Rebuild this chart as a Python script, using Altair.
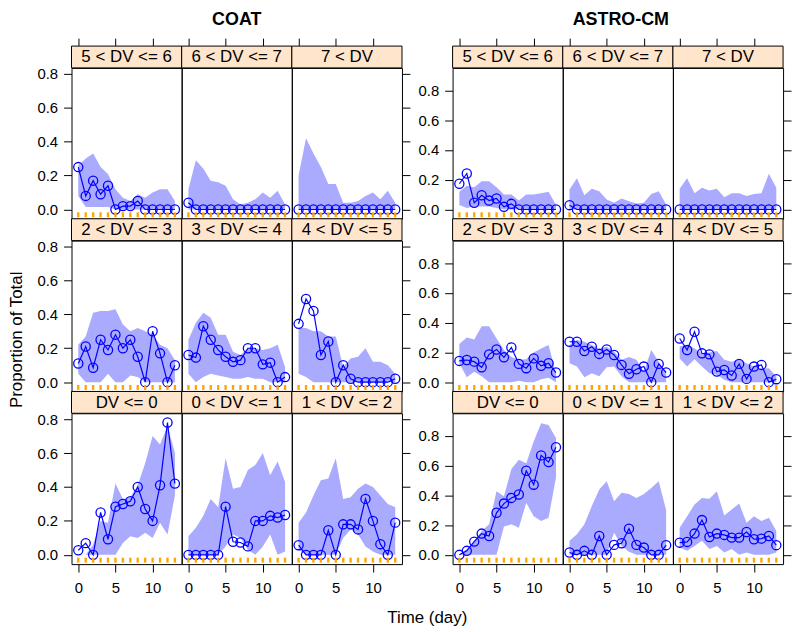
import altair as alt
import pandas as pd

days = list(range(14))
groups = ["COAT", "ASTRO-CM"]
strip_labels = [
    ["5 < DV <= 6", "6 < DV <= 7", "7 < DV"],
    ["2 < DV <= 3", "3 < DV <= 4", "4 < DV <= 5"],
    ["DV <= 0", "0 < DV <= 1", "1 < DV <= 2"],
]
x_ticks = [0, 5, 10]
y_ticks = [0.0, 0.2, 0.4, 0.6, 0.8]

# ---------------- COAT ----------------
coat_56_p = [0.25, 0.08, 0.17, 0.09, 0.14, 0.0, 0.02, 0.02, 0.05, 0.0, 0.0, 0.0, 0.0, 0.0]
coat_56_lo = [0.08, 0.015, 0.015, 0.015, 0.015, 0.0, 0.0, 0.0, 0.0, 0.0, 0.0, 0.0, 0.0, 0.0]
coat_56_hi = [0.26, 0.30, 0.33, 0.25, 0.21, 0.12, 0.07, 0.05, 0.09, 0.07, 0.10, 0.12, 0.12, 0.05]

coat_67_p = [0.04, 0.0, 0.0, 0.0, 0.0, 0.0, 0.0, 0.0, 0.0, 0.0, 0.0, 0.0, 0.0, 0.0]
coat_67_lo = [0.0] * 14
coat_67_hi = [0.12, 0.29, 0.24, 0.17, 0.16, 0.14, 0.06, 0.03, 0.04, 0.06, 0.10, 0.07, 0.11, 0.03]

coat_7_p = [0.0] * 14
coat_7_lo = [0.0] * 14
coat_7_hi = [0.20, 0.42, 0.33, 0.25, 0.15, 0.15, 0.04, 0.04, 0.05, 0.08, 0.10, 0.06, 0.11, 0.04]

coat_23_p = [0.11, 0.21, 0.085, 0.25, 0.19, 0.28, 0.20, 0.25, 0.15, 0.0, 0.30, 0.17, 0.0, 0.10]
coat_23_lo = [0.05, 0.0, 0.0, 0.0, 0.05, 0.0, 0.0, 0.04, 0.03, 0.0, 0.0, 0.0, 0.0, 0.0]
coat_23_hi = [0.22, 0.27, 0.41, 0.42, 0.42, 0.43, 0.34, 0.30, 0.32, 0.30, 0.28, 0.22, 0.20, 0.13]

coat_34_p = [0.16, 0.145, 0.33, 0.25, 0.19, 0.15, 0.12, 0.13, 0.20, 0.20, 0.105, 0.115, 0.0, 0.03]
coat_34_lo = [0.05, 0.0, 0.03, 0.05, 0.04, 0.03, 0.02, 0.02, 0.03, 0.02, 0.02, 0.0, 0.0, 0.0]
coat_34_hi = [0.25, 0.35, 0.41, 0.38, 0.28, 0.28, 0.18, 0.16, 0.20, 0.20, 0.19, 0.20, 0.22, 0.09]

coat_45_p = [0.344, 0.49, 0.42, 0.16, 0.24, 0.0, 0.10, 0.02, 0.0, 0.0, 0.0, 0.0, 0.0, 0.02]
coat_45_lo = [0.05, 0.03, 0.0, 0.0, 0.0, 0.0, 0.0, 0.0, 0.0, 0.0, 0.0, 0.0, 0.0, 0.0]
coat_45_hi = [0.32, 0.32, 0.30, 0.30, 0.27, 0.27, 0.09, 0.14, 0.15, 0.20, 0.12, 0.12, 0.10, 0.05]

coat_le0_p = [0.027, 0.069, 0.0, 0.25, 0.092, 0.284, 0.30, 0.316, 0.40, 0.27, 0.20, 0.41, 0.78, 0.42]
coat_le0_lo = [0.0, 0.0, 0.0, 0.0, 0.0, 0.0, 0.07, 0.11, 0.10, 0.13, 0.10, 0.19, 0.12, 0.35]
coat_le0_hi = [0.0, 0.0, 0.06, 0.20, 0.19, 0.42, 0.33, 0.34, 0.41, 0.54, 0.70, 0.65, 0.76, 0.60]

coat_01_p = [0.0, 0.0, 0.0, 0.0, 0.0, 0.284, 0.077, 0.073, 0.05, 0.20, 0.20, 0.23, 0.22, 0.235]
coat_01_lo = [0.0, 0.0, 0.0, 0.0, 0.0, 0.05, 0.12, 0.10, 0.03, 0.0, 0.05, 0.12, 0.0, 0.02]
coat_01_hi = [0.11, 0.16, 0.23, 0.33, 0.28, 0.57, 0.39, 0.40, 0.50, 0.53, 0.60, 0.47, 0.55, 0.43]

coat_12_p = [0.057, 0.0, 0.0, 0.0, 0.145, 0.0, 0.18, 0.18, 0.15, 0.33, 0.20, 0.063, 0.0, 0.19]
coat_12_lo = [0.03, 0.0, 0.0, 0.0, 0.0, 0.0, 0.10, 0.15, 0.12, 0.05, 0.02, 0.0, 0.0, 0.0]
coat_12_hi = [0.19, 0.25, 0.35, 0.44, 0.45, 0.57, 0.33, 0.34, 0.39, 0.42, 0.40, 0.35, 0.30, 0.28]

# ---------------- ASTRO-CM ----------------
astro_56_p = [0.173, 0.242, 0.045, 0.096, 0.06, 0.074, 0.018, 0.038, 0.0, 0.0, 0.0, 0.0, 0.0, 0.0]
astro_56_lo = [0.03, 0.01, 0.02, 0.02, 0.02, 0.01, 0.0, 0.0, 0.0, 0.0, 0.0, 0.0, 0.0, 0.0]
astro_56_hi = [0.12, 0.16, 0.15, 0.19, 0.19, 0.15, 0.10, 0.10, 0.06, 0.10, 0.10, 0.11, 0.12, 0.03]

astro_67_p = [0.029, 0.0, 0.0, 0.0, 0.0, 0.0, 0.0, 0.0, 0.0, 0.0, 0.0, 0.0, 0.0, 0.0]
astro_67_lo = [0.0] * 14
astro_67_hi = [0.135, 0.21, 0.096, 0.14, 0.123, 0.067, 0.045, 0.074, 0.056, 0.04, 0.045, 0.105, 0.123, 0.034]

astro_7_p = [0.0] * 14
astro_7_lo = [0.0] * 14
astro_7_hi = [0.14, 0.21, 0.11, 0.146, 0.128, 0.14, 0.083, 0.11, 0.11, 0.09, 0.105, 0.11, 0.24, 0.146]

astro_23_p = [0.143, 0.149, 0.138, 0.10, 0.187, 0.22, 0.167, 0.234, 0.123, 0.094, 0.16, 0.11, 0.127, 0.065]
astro_23_lo = [0.127, 0.033, 0.07, 0.04, 0.0, 0.0, 0.0, 0.0, 0.01, 0.0, 0.0, 0.02, 0.03, 0.0]
astro_23_hi = [0.256, 0.30, 0.287, 0.377, 0.377, 0.294, 0.216, 0.17, 0.15, 0.154, 0.20, 0.227, 0.25, 0.06]

astro_34_p = [0.272, 0.272, 0.21, 0.238, 0.19, 0.22, 0.183, 0.116, 0.056, 0.087, 0.105, 0.0, 0.123, 0.065]
astro_34_lo = [0.127, 0.105, 0.033, 0.06, 0.04, 0.10, 0.105, 0.04, 0.0, 0.0, 0.0, 0.0, 0.0, 0.0]
astro_34_hi = [0.25, 0.283, 0.272, 0.25, 0.227, 0.238, 0.205, 0.15, 0.17, 0.15, 0.07, 0.216, 0.138, 0.06]

astro_45_p = [0.294, 0.216, 0.339, 0.194, 0.187, 0.071, 0.082, 0.045, 0.123, 0.022, 0.105, 0.116, 0.0, 0.02]
astro_45_lo = [0.16, 0.105, 0.154, 0.105, 0.06, 0.05, 0.016, 0.0, 0.0, 0.0, 0.0, 0.0, 0.0, 0.0]
astro_45_hi = [0.24, 0.25, 0.227, 0.194, 0.20, 0.21, 0.15, 0.138, 0.154, 0.127, 0.105, 0.09, 0.094, 0.038]

astro_le0_p = [0.0, 0.027, 0.089, 0.143, 0.127, 0.283, 0.345, 0.383, 0.406, 0.566, 0.472, 0.669, 0.624, 0.724]
astro_le0_lo = [0.0, 0.0, 0.0, 0.0, 0.0, 0.0, 0.19, 0.205, 0.183, 0.35, 0.26, 0.227, 0.25, 0.52]
astro_le0_hi = [0.0, 0.04, 0.094, 0.16, 0.205, 0.428, 0.394, 0.577, 0.64, 0.617, 0.762, 0.885, 0.873, 0.784]

astro_01_p = [0.016, 0.0, 0.027, 0.0, 0.127, 0.0, 0.067, 0.078, 0.176, 0.067, 0.049, 0.0, 0.0, 0.065]
astro_01_lo = [0.0, 0.0, 0.0, 0.0, 0.0, 0.0, 0.15, 0.06, 0.02, 0.0, 0.0, 0.0, 0.0, 0.0]
astro_01_hi = [0.094, 0.138, 0.205, 0.328, 0.44, 0.495, 0.361, 0.417, 0.41, 0.383, 0.41, 0.45, 0.495, 0.30]

astro_12_p = [0.082, 0.087, 0.143, 0.234, 0.12, 0.143, 0.134, 0.116, 0.116, 0.154, 0.105, 0.109, 0.127, 0.065]
astro_12_lo = [0.05, 0.027, 0.06, 0.094, 0.04, 0.06, 0.016, 0.04, 0.0, 0.016, 0.0, 0.0, 0.0, 0.016]
astro_12_hi = [0.183, 0.26, 0.339, 0.383, 0.377, 0.428, 0.265, 0.305, 0.345, 0.216, 0.26, 0.227, 0.25, 0.16]

series = {
    "COAT": [
        [(coat_56_p, coat_56_lo, coat_56_hi), (coat_67_p, coat_67_lo, coat_67_hi), (coat_7_p, coat_7_lo, coat_7_hi)],
        [(coat_23_p, coat_23_lo, coat_23_hi), (coat_34_p, coat_34_lo, coat_34_hi), (coat_45_p, coat_45_lo, coat_45_hi)],
        [(coat_le0_p, coat_le0_lo, coat_le0_hi), (coat_01_p, coat_01_lo, coat_01_hi), (coat_12_p, coat_12_lo, coat_12_hi)],
    ],
    "ASTRO-CM": [
        [(astro_56_p, astro_56_lo, astro_56_hi), (astro_67_p, astro_67_lo, astro_67_hi), (astro_7_p, astro_7_lo, astro_7_hi)],
        [(astro_23_p, astro_23_lo, astro_23_hi), (astro_34_p, astro_34_lo, astro_34_hi), (astro_45_p, astro_45_lo, astro_45_hi)],
        [(astro_le0_p, astro_le0_lo, astro_le0_hi), (astro_01_p, astro_01_lo, astro_01_hi), (astro_12_p, astro_12_lo, astro_12_hi)],
    ],
}

W, H, S = 111, 152, 22
GAP = 51
XDOM = [-0.91, 13.91]
YDOM = {"COAT": [-0.0546, 0.8346], "ASTRO-CM": [-0.0624, 0.9524]}
FONT = "Liberation Sans"
BAND = "#aaaaff"
BLUE = "#0000ff"
STRIP_BG = "#ffe5cc"
RUG = "#ffa500"


def text_layer(txt, x, y, size, weight="normal", angle=0):
    d = pd.DataFrame({"t": [txt]})
    return alt.Chart(d).mark_text(
        font=FONT, fontSize=size, fontWeight=weight, color="black",
        align="center", baseline="middle", angle=angle
    ).encode(x=alt.value(x), y=alt.value(y), text="t:N")


def make_panel(group, r, c):
    label = strip_labels[r][c]
    p, lo, hi = series[group][r][c]
    df = pd.DataFrame({"day": days, "p": p, "lo": lo, "hi": hi})
    xscale = alt.Scale(domain=XDOM, nice=False, zero=False)
    yscale = alt.Scale(domain=YDOM[group], nice=False, zero=False)

    common = dict(grid=False, domain=False, tickColor="black", tickWidth=1, tickSize=8, title=None)
    if r == 0:
        xaxis = alt.Axis(orient="top", values=x_ticks, labels=False, offset=S, **common)
    elif r == 2:
        xaxis = alt.Axis(orient="bottom", values=x_ticks, labelPadding=9, labelFontSize=15,
                         labelFont=FONT, labelColor="black", **common)
    else:
        xaxis = None
    if c == 0:
        yaxis = alt.Axis(orient="left", values=y_ticks, format=".1f", labelPadding=6, labelFontSize=15,
                         labelFont=FONT, labelColor="black", **common)
    elif c == 2:
        yaxis = alt.Axis(orient="right", values=y_ticks, labels=False, **common)
    else:
        yaxis = None

    xenc = alt.X("day:Q", scale=xscale, axis=xaxis, title=None)
    base = alt.Chart(df)
    band = base.mark_area(color=BAND, opacity=1).encode(
        x=xenc, y=alt.Y("lo:Q", scale=yscale, axis=yaxis, title=None), y2="hi:Q")
    line = base.mark_line(color=BLUE, strokeWidth=1.2).encode(
        x=xenc, y=alt.Y("p:Q", scale=yscale, axis=yaxis, title=None))
    pts = base.mark_point(shape="circle", filled=False, color=BLUE, size=85, strokeWidth=1.3, opacity=1).encode(
        x=xenc, y=alt.Y("p:Q", scale=yscale, axis=yaxis, title=None))
    rug = base.mark_rule(color=RUG, strokeWidth=2.4).encode(
        x=xenc, y=alt.value(H - 6.5), y2=alt.value(H - 1.5))

    lab = pd.DataFrame({"label": [label]})
    strip = alt.Chart(lab).mark_rect(fill=STRIP_BG, stroke="black", strokeWidth=1).encode(
        x=alt.value(0), x2=alt.value(W), y=alt.value(-S), y2=alt.value(0))
    stext = alt.Chart(lab).mark_text(font=FONT, fontSize=17, color="black", align="center",
                                     baseline="middle").encode(
        x=alt.value(W / 2), y=alt.value(-S / 2 + 0.5), text="label:N")

    layers = [band, line, pts, rug, strip, stext]
    if r == 0 and c == 1:
        layers.append(text_layer(group, W / 2 + (3 if group == "ASTRO-CM" else 0), -48, 18, weight="bold"))
    if group == "COAT" and r == 1 and c == 0:
        layers.append(text_layer("Proportion of Total", -54.5, 100, 17, angle=270))
    if group == "COAT" and r == 2 and c == 2:
        layers.append(text_layer("Time (day)", 136.5, 206, 17))
    return alt.layer(*layers).properties(width=W, height=H)


def spacer():
    d = pd.DataFrame({"a": [0]})
    return alt.Chart(d).mark_text(text="").encode(x=alt.value(0), y=alt.value(0)).properties(
        width=GAP, height=H, view=alt.ViewBackground(stroke="transparent"))


cells = []
for r in range(3):
    for c in range(3):
        cells.append(make_panel("COAT", r, c))
    cells.append(spacer())
    for c in range(3):
        cells.append(make_panel("ASTRO-CM", r, c))

chart = alt.concat(
    *cells, columns=7, spacing={"row": S, "column": 0}, bounds="flush", padding=0,
    background="white"
).configure_view(stroke="black", strokeWidth=1)

chart.save("out.html", embed_options={"renderer": "svg", "actions": False})
